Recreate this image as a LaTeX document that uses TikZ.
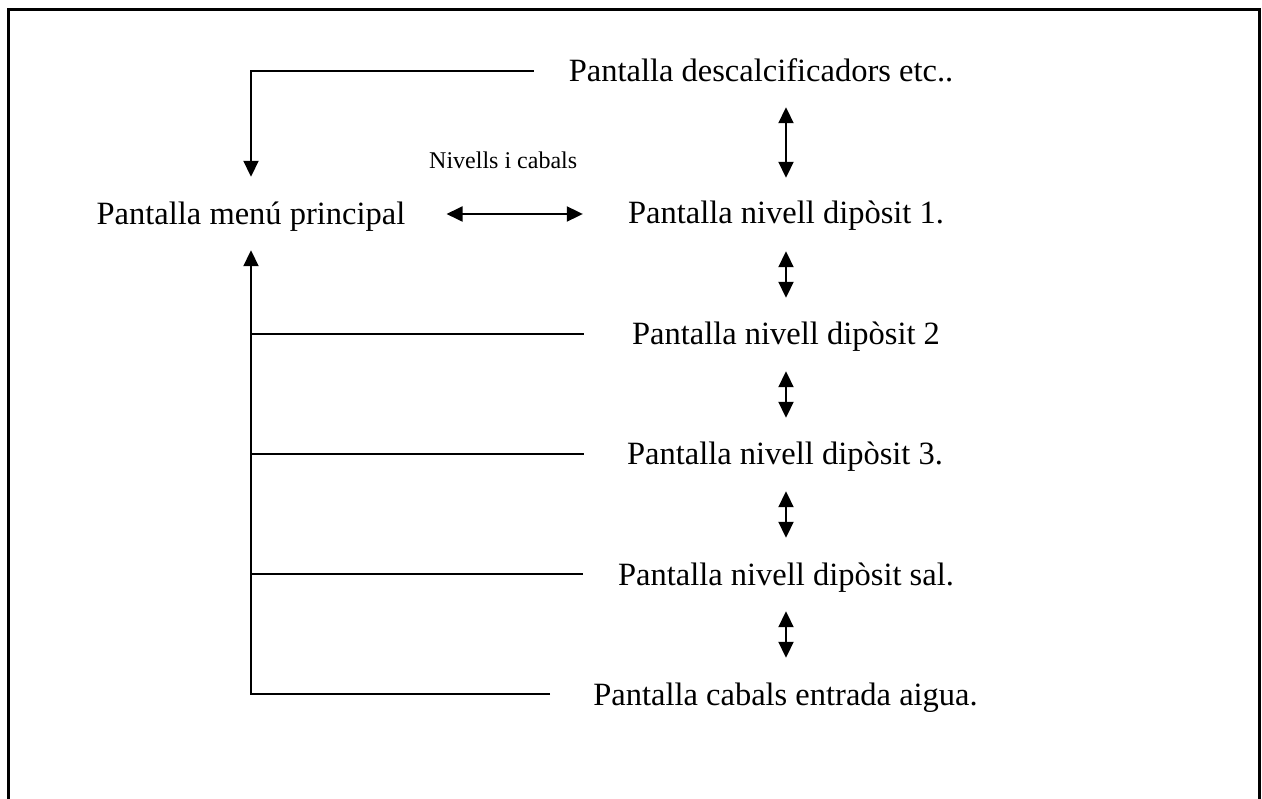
\documentclass[tikz,border=0pt]{standalone}
\usepackage{fontspec}
\setmainfont{Liberation Serif}
\usetikzlibrary{arrows.meta}

\tikzset{
  screen/.style={inner sep=0pt, anchor=base, text height=22pt, text depth=0pt,
                 font=\fontsize{32.5}{39}\selectfont},
  small/.style={inner sep=0pt, anchor=base west, font=\fontsize{24}{29}\selectfont},
  wire/.style={line width=1.9pt, line cap=butt},
  tip/.tip={Triangle[length=16pt,width=15pt]},
  arr/.style={wire, -tip},
  darr/.style={wire, tip-tip},
  frame/.style={line width=2.8pt}
}

\begin{document}
\begin{tikzpicture}[x=1pt,y=-1pt]
  \useasboundingbox (0,0) rectangle (1262,799);

  % outer frame (continues past the lower edge)
  \draw[frame] (8.5,799) -- (8.5,9.5) -- (1259.5,9.5) -- (1259.5,799);

  % screens
  \node[screen] (desc) at (761,82)  {Pantalla descalcificadors etc..};
  \node[screen] (menu) at (251,225) {Pantalla menú principal};
  \node[screen] (niv1) at (786,224) {Pantalla nivell dipòsit 1.};
  \node[screen] (niv2) at (786,345) {Pantalla nivell dipòsit 2};
  \node[screen] (niv3) at (785,465) {Pantalla nivell dipòsit 3.};
  \node[screen] (sal)  at (786,585) {Pantalla nivell dipòsit sal.};
  \node[screen] (cab)  at (785.5,705) {Pantalla cabals entrada aigua.};

  \node[small] (lab) at (429,169) {Nivells i cabals};

  % main menu <-> first level screen
  \draw[darr] ([xshift=41pt]menu.east) -- ([xshift=-45pt]niv1.west |- menu.east);

  % chain of screens
  \draw[darr] ([yshift=-25pt]desc.south -| niv1.north) -- ([yshift=24pt]niv1.north);
  \draw[darr] ([yshift=-27pt]niv1.south) -- ([yshift=25pt]niv2.north -| niv1.north);
  \draw[darr] ([yshift=-26pt]niv2.south) -- ([yshift=25pt]niv3.north -| niv2.north);
  \draw[darr] ([yshift=-26pt]niv3.south -| niv2.north) -- ([yshift=25pt]sal.north -| niv2.north);
  \draw[darr] ([yshift=-26pt]sal.south -| niv2.north) -- ([yshift=25pt]cab.north -| niv2.north);

  % descalcificadors -> main menu
  \draw[arr] ([xshift=-35pt]desc.west) -| ([yshift=26pt]menu.north);

  % return paths to the main menu
  \draw[arr] ([xshift=-43pt]cab.west) -| ([yshift=-25pt]menu.south);
  \draw[wire] ([xshift=-48pt]niv2.west) -- (niv2.west -| menu.south);
  \draw[wire] ([xshift=-43pt]niv3.west) -- (niv3.west -| menu.south);
  \draw[wire] ([xshift=-35pt]sal.west) -- (sal.west -| menu.south);
\end{tikzpicture}
\end{document}
